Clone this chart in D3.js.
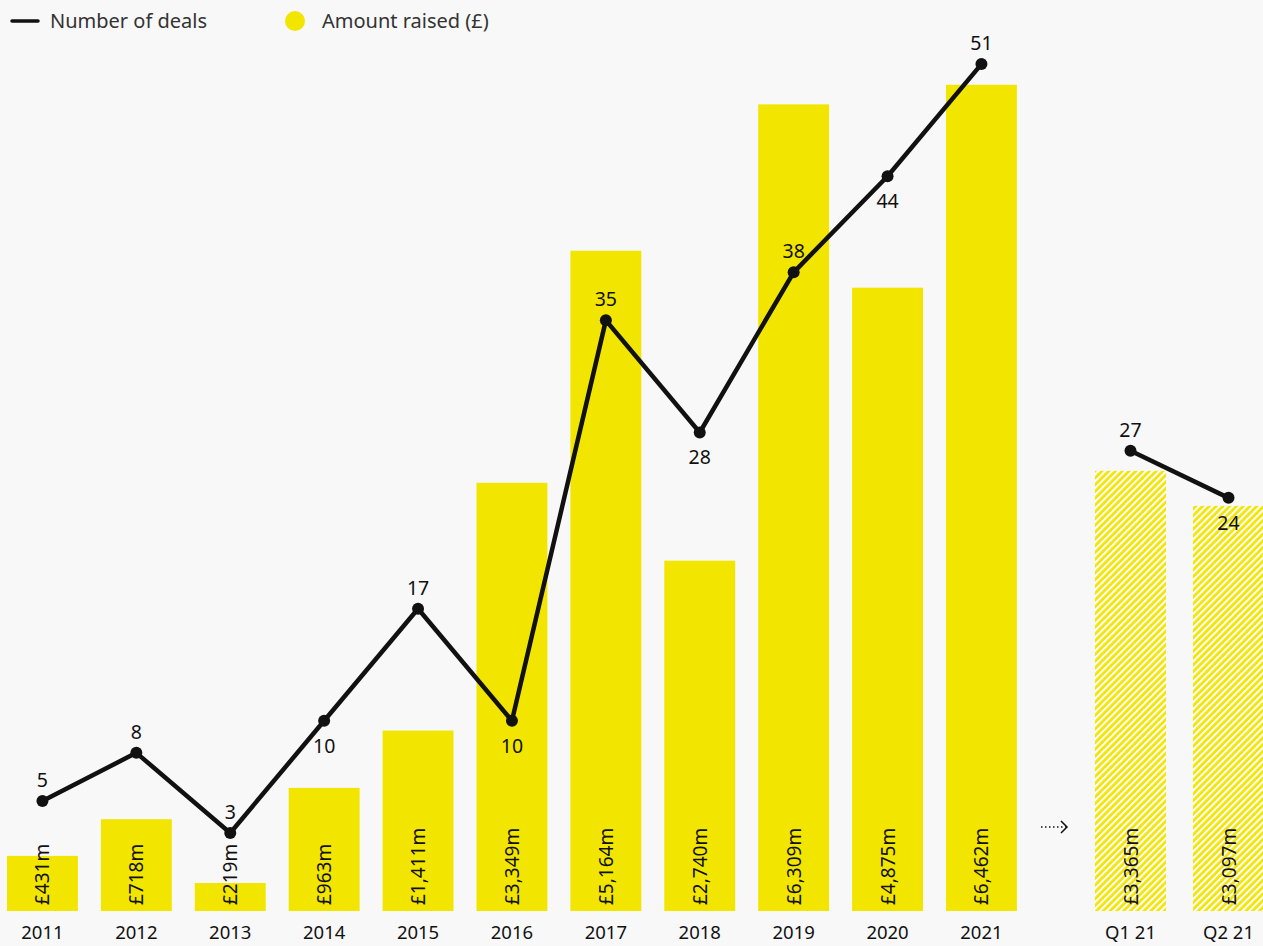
<!DOCTYPE html>
<html>
<head>
<meta charset="utf-8">
<script src="https://cdn.jsdelivr.net/npm/d3@7"></script>
<style>
  html, body { margin: 0; padding: 0; background: #f8f8f8; }
  svg { display: block; font-family: "Noto Sans", "Open Sans", sans-serif; }
</style>
</head>
<body>
<svg id="chart" width="1263" height="946"></svg>
<script>
// Annual figures
const years = ["2011","2012","2013","2014","2015","2016","2017","2018","2019","2020","2021"];
const amountRaised = [431, 718, 219, 963, 1411, 3349, 5164, 2740, 6309, 4875, 6462];
const dealCount = [5, 8, 3, 10, 17, 10, 35, 28, 38, 44, 51];
const dealLabelBelow = [false, false, false, true, false, true, false, true, false, true, false];

// Quarterly figures for 2021
const quarters = ["Q1 21", "Q2 21"];
const quarterAmount = [3365, 3097];
const quarterDeals = [27, 24];
const quarterLabelBelow = [false, true];

const legendItems = ["Number of deals", "Amount raised (£)"];

const YELLOW = "#f2e500";
const INK = "#111";

const svg = d3.select("#chart");

const defs = svg.append("defs");
const pat = defs.append("pattern")
  .attr("id", "hatch")
  .attr("patternUnits", "userSpaceOnUse")
  .attr("width", 4.8).attr("height", 4.8)
  .attr("patternTransform", "rotate(45)");
pat.append("rect").attr("width", 4.8).attr("height", 4.8).attr("fill", YELLOW);
pat.append("rect").attr("x", 0).attr("width", 2.1).attr("height", 4.8).attr("fill", "#fff");

// Scales: the annual panel and the quarterly panel each have their own
const xYear = d3.scaleBand().domain(years).range([-4.5, 1028.4]).paddingInner(0.245).paddingOuter(0.1225);
const xQuarter = d3.scaleBand().domain(quarters).range([1081.5, 1277.5]).paddingInner(0.275).paddingOuter(0.1375);
const yAmountYear = d3.scaleLinear().domain([0, 7000]).range([911, 16]);
const yDealsYear = d3.scaleLinear().domain([0, 55]).range([881, 0]);
const yAmountQuarter = d3.scaleLinear().domain([0, 7000]).range([911, -4.6]);
const yDealsQuarter = d3.scaleLinear().domain([0, 55]).range([874, 12]);

const yearData = years.map((k, i) => ({ k, amt: amountRaised[i], deals: dealCount[i], below: dealLabelBelow[i] }));
const qData = quarters.map((k, i) => ({ k, amt: quarterAmount[i], deals: quarterDeals[i], below: quarterLabelBelow[i] }));

const fmtAmt = v => "£" + d3.format(",")(v) + "m";

function drawGroup(data, x, yAmount, yDeals, fill) {
  const g = svg.append("g");
  const cx = d => x(d.k) + x.bandwidth() / 2;

  // bars
  g.selectAll("rect.bar").data(data).join("rect")
    .attr("class", "bar")
    .attr("x", d => x(d.k))
    .attr("width", x.bandwidth())
    .attr("y", d => yAmount(d.amt))
    .attr("height", d => yAmount(0) - yAmount(d.amt))
    .attr("fill", fill);

  // category axis labels
  g.selectAll("text.cat").data(data).join("text")
    .attr("class", "cat")
    .attr("x", cx)
    .attr("y", 939)
    .attr("text-anchor", "middle")
    .attr("font-size", 18.5)
    .attr("fill", INK)
    .text(d => d.k);

  // rotated amount labels
  g.selectAll("text.amt").data(data).join("text")
    .attr("class", "amt")
    .attr("transform", d => `translate(${cx(d) + 7},905) rotate(-90)`)
    .attr("font-size", 19)
    .attr("fill", INK)
    .text(d => fmtAmt(d.amt));

  // deals line
  const line = d3.line().x(cx).y(d => yDeals(d.deals));
  g.append("path")
    .datum(data)
    .attr("d", line)
    .attr("fill", "none")
    .attr("stroke", INK)
    .attr("stroke-width", 4.5)
    .attr("stroke-linejoin", "round");

  g.selectAll("circle.pt").data(data).join("circle")
    .attr("class", "pt")
    .attr("cx", cx)
    .attr("cy", d => yDeals(d.deals))
    .attr("r", 6)
    .attr("fill", INK);

  g.selectAll("text.deal").data(data).join("text")
    .attr("class", "deal")
    .attr("x", cx)
    .attr("y", d => yDeals(d.deals) + (d.below ? 32 : -14))
    .attr("text-anchor", "middle")
    .attr("font-size", 19.5)
    .attr("fill", INK)
    .text(d => d.deals);
}

drawGroup(yearData, xYear, yAmountYear, yDealsYear, YELLOW);
drawGroup(qData, xQuarter, yAmountQuarter, yDealsQuarter, "url(#hatch)");

// dotted arrow between annual and quarterly panels
const arrow = svg.append("g").attr("stroke", INK).attr("fill", "none");
arrow.append("line")
  .attr("x1", 1041).attr("x2", 1066).attr("y1", 827).attr("y2", 827)
  .attr("stroke-width", 1.3).attr("stroke-dasharray", "1.5,2.5");
arrow.append("path")
  .attr("d", "M1061,821 L1067,827 L1061,833")
  .attr("stroke-width", 1.5);

// legend
const legend = svg.append("g").attr("font-size", 20).attr("fill", "#333");
legend.append("line")
  .attr("x1", 12).attr("x2", 38).attr("y1", 21).attr("y2", 21)
  .attr("stroke", INK).attr("stroke-width", 3.5).attr("stroke-linecap", "round");
legend.append("text").attr("x", 50).attr("y", 28).text(legendItems[0]);
legend.append("circle").attr("cx", 295).attr("cy", 21).attr("r", 10).attr("fill", YELLOW);
legend.append("text").attr("x", 322).attr("y", 28).text(legendItems[1]);
</script>
</body>
</html>
